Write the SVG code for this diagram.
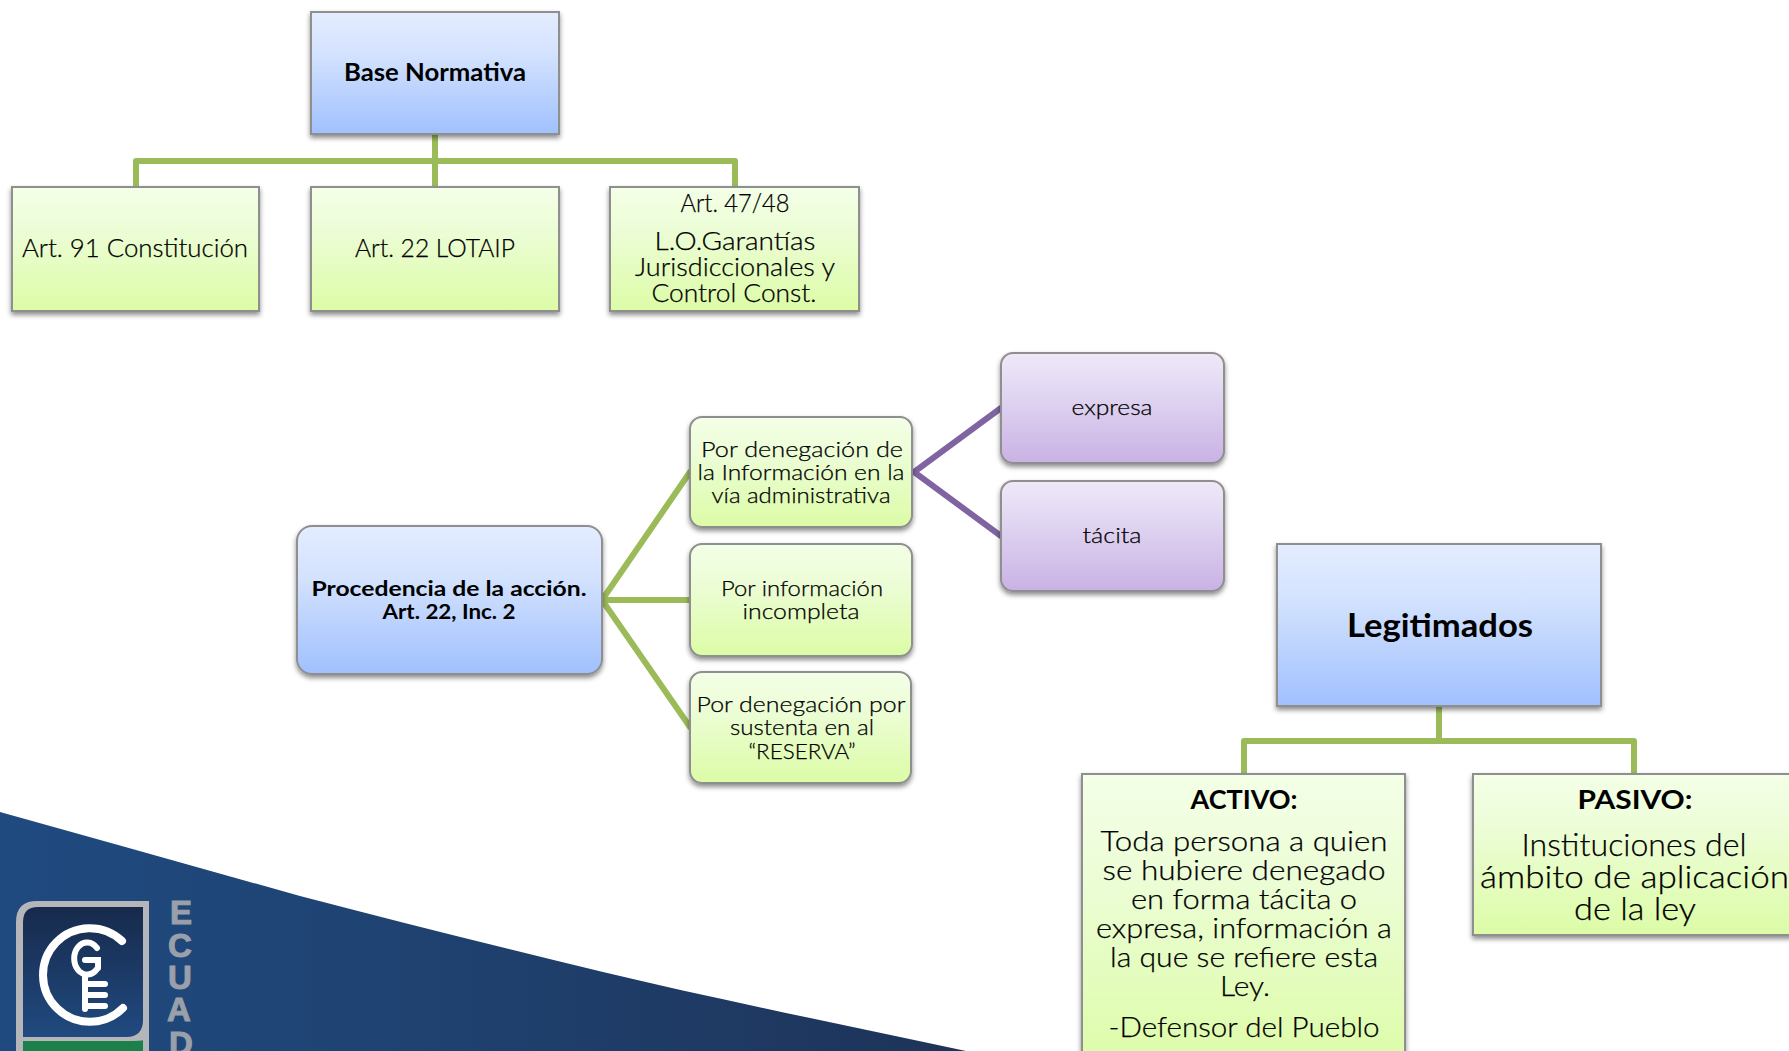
<svg xmlns="http://www.w3.org/2000/svg" width="1789" height="1051" viewBox="0 0 1789 1051">
<style>
text{font-family:"Lato","Liberation Sans",sans-serif;fill:#000;stroke:#000;stroke-width:.25;font-weight:300}
text.b{font-weight:700;fill:#000;stroke:none}
.blue{fill:url(#gb)}.green{fill:url(#gg)}.purple{fill:url(#gp)}
.box{stroke:#8f8f8f;stroke-width:2;filter:url(#sh)}
.cg{fill:none;stroke:#9bbb59;stroke-width:6;stroke-linejoin:round;stroke-linecap:round}
.cp{fill:none;stroke:#8064a2;stroke-width:6;stroke-linecap:round}
text.lt{font-family:"Liberation Sans",sans-serif;font-weight:700;font-size:33px;fill:#9aa0aa;stroke:#9aa0aa;stroke-width:1}
.key{fill:none;stroke:#fff;stroke-width:8;stroke-linecap:round}
.key2{fill:none;stroke:#fff;stroke-width:6;stroke-linecap:round}
</style>
<defs>
<linearGradient id="gb" x1="0" y1="0" x2="0" y2="1"><stop offset="0" stop-color="#e4edff"/><stop offset=".35" stop-color="#d3e2fe"/><stop offset="1" stop-color="#a0c0fe"/></linearGradient>
<linearGradient id="gg" x1="0" y1="0" x2="0" y2="1"><stop offset="0" stop-color="#f4ffe7"/><stop offset=".35" stop-color="#ecfdd6"/><stop offset="1" stop-color="#dcfca6"/></linearGradient>
<linearGradient id="gp" x1="0" y1="0" x2="0" y2="1"><stop offset="0" stop-color="#efe8f8"/><stop offset=".35" stop-color="#e2d7f2"/><stop offset="1" stop-color="#c8b2e4"/></linearGradient>
<linearGradient id="bg" x1="0" y1="0" x2="1" y2="0"><stop offset="0" stop-color="#1f4a80"/><stop offset=".35" stop-color="#1f4474"/><stop offset="1" stop-color="#1e3358"/></linearGradient>
<linearGradient id="lg" x1="0" y1="0" x2="0" y2="1"><stop offset="0" stop-color="#172a4c"/><stop offset="1" stop-color="#204a80"/></linearGradient>
<filter id="sh" x="-10%" y="-10%" width="120%" height="125%"><feDropShadow dx="0" dy="3" stdDeviation="2.5" flood-color="#000" flood-opacity=".45"/></filter>
</defs>
<g id="background">
<path d="M0 812C100 840 200 868 300 896C400 922 503 948 603 972C720 1000 845 1025 966 1051L0 1051Z" fill="url(#bg)"/>
</g>
<g id="logo">
<path d="M16 1051V922Q16 901 37 901H149V1051Z" fill="#b4b6ba"/>
<path d="M23 1037V922Q23 907 38 907H143V1020Q143 1037 126 1037Z" fill="url(#lg)"/>
<path d="M23 1051V1041H126Q143 1041 143 1040V1051Z" fill="#1b8049"/>
<path class="key" d="M122 941A46.800 46.800 0 1 0 123 1008"/>
<path class="key2" d="M97 948A13 16 0 1 0 97 969M85 960H98V968M85 975V1009M85 984H105M85 995H105M85 1006H105"/>
<text class="lt" x="170" y="924">E</text>
<text class="lt" x="168" y="957">C</text>
<text class="lt" x="168" y="989">U</text>
<text class="lt" x="167" y="1021">A</text>
<text class="lt" x="169" y="1055">D</text>
</g>
<g id="connectors">
<path class="cg" d="M435 134V187M136 187V161H735V187"/>
<path class="cg" d="M690 472L602 600L690 727M602 600H690"/>
<path class="cp" d="M1001 408L914 472L1001 536"/>
<path class="cg" d="M1439 706V741M1244 774V741H1634V774"/>
</g>
<g id="n-base"><rect class="box blue" x="311" y="12" width="248" height="122"/>
<text class="b" x="435" y="81" text-anchor="middle" font-size="25" textLength="182" lengthAdjust="spacingAndGlyphs">Base Normativa</text></g>
<g id="n-art91"><rect class="box green" x="12" y="187" width="247" height="124"/>
<text x="135" y="257" text-anchor="middle" font-size="25" textLength="226" lengthAdjust="spacingAndGlyphs">Art. 91 Constitución</text></g>
<g id="n-art22"><rect class="box green" x="311" y="187" width="248" height="124"/>
<text x="435" y="257" text-anchor="middle" font-size="25" textLength="160" lengthAdjust="spacingAndGlyphs">Art. 22 LOTAIP</text></g>
<g id="n-art47"><rect class="box green" x="610" y="187" width="249" height="124"/>
<text x="735" y="212" text-anchor="middle" font-size="25" textLength="109" lengthAdjust="spacingAndGlyphs">Art. 47/48</text>
<text x="735" y="250" text-anchor="middle" font-size="25" textLength="161" lengthAdjust="spacingAndGlyphs">L.O.Garantías</text>
<text x="735" y="276" text-anchor="middle" font-size="25" textLength="200" lengthAdjust="spacingAndGlyphs">Jurisdiccionales y</text>
<text x="734" y="302" text-anchor="middle" font-size="25" textLength="165" lengthAdjust="spacingAndGlyphs">Control Const.</text></g>
<g id="n-procedencia"><rect class="box blue" x="297" y="526" width="305" height="148" rx="15"/>
<text class="b" x="449" y="596" text-anchor="middle" font-size="21" textLength="275" lengthAdjust="spacingAndGlyphs">Procedencia de la acción.</text>
<text class="b" x="449" y="619" text-anchor="middle" font-size="21" textLength="133" lengthAdjust="spacingAndGlyphs">Art. 22, Inc. 2</text></g>
<g id="n-denegacion"><rect class="box green" x="690" y="417" width="222" height="110" rx="12"/>
<text x="802" y="457" text-anchor="middle" font-size="22" textLength="202" lengthAdjust="spacingAndGlyphs">Por denegación de</text>
<text x="801" y="480" text-anchor="middle" font-size="22" textLength="207" lengthAdjust="spacingAndGlyphs">la Información en la</text>
<text x="801" y="503" text-anchor="middle" font-size="22" textLength="179" lengthAdjust="spacingAndGlyphs">vía administrativa</text></g>
<g id="n-incompleta"><rect class="box green" x="690" y="544" width="222" height="112" rx="12"/>
<text x="802" y="596" text-anchor="middle" font-size="22" textLength="162" lengthAdjust="spacingAndGlyphs">Por información</text>
<text x="801" y="619" text-anchor="middle" font-size="22" textLength="117" lengthAdjust="spacingAndGlyphs">incompleta</text></g>
<g id="n-reserva"><rect class="box green" x="690" y="672" width="221" height="111" rx="12"/>
<text x="801" y="712" text-anchor="middle" font-size="22" textLength="209" lengthAdjust="spacingAndGlyphs">Por denegación por</text>
<text x="802" y="735" text-anchor="middle" font-size="22" textLength="144" lengthAdjust="spacingAndGlyphs">sustenta en al</text>
<text x="802" y="759" text-anchor="middle" font-size="22" textLength="107" lengthAdjust="spacingAndGlyphs">“RESERVA”</text></g>
<g id="n-expresa"><rect class="box purple" x="1001" y="353" width="223" height="110" rx="12"/>
<text x="1112" y="415" text-anchor="middle" font-size="22" textLength="81" lengthAdjust="spacingAndGlyphs">expresa</text></g>
<g id="n-tacita"><rect class="box purple" x="1001" y="481" width="223" height="110" rx="12"/>
<text x="1112" y="543" text-anchor="middle" font-size="22" textLength="59" lengthAdjust="spacingAndGlyphs">tácita</text></g>
<g id="n-legitimados"><rect class="box blue" x="1277" y="544" width="324" height="162"/>
<text class="b" x="1440" y="637" text-anchor="middle" font-size="33" textLength="186" lengthAdjust="spacingAndGlyphs">Legitimados</text></g>
<g id="n-activo"><rect class="box green" x="1082" y="774" width="323" height="300"/>
<text class="b" x="1244" y="809" text-anchor="middle" font-size="27" textLength="107" lengthAdjust="spacingAndGlyphs">ACTIVO:</text>
<text x="1244" y="851" text-anchor="middle" font-size="28" textLength="287" lengthAdjust="spacingAndGlyphs">Toda persona a quien</text>
<text x="1244" y="880" text-anchor="middle" font-size="28" textLength="283" lengthAdjust="spacingAndGlyphs">se hubiere denegado</text>
<text x="1244" y="909" text-anchor="middle" font-size="28" textLength="226" lengthAdjust="spacingAndGlyphs">en forma tácita o</text>
<text x="1244" y="938" text-anchor="middle" font-size="28" textLength="296" lengthAdjust="spacingAndGlyphs">expresa, información a</text>
<text x="1244" y="967" text-anchor="middle" font-size="28" textLength="268" lengthAdjust="spacingAndGlyphs">la que se refiere esta</text>
<text x="1245" y="996" text-anchor="middle" font-size="28" textLength="50" lengthAdjust="spacingAndGlyphs">Ley.</text>
<text x="1244" y="1037" text-anchor="middle" font-size="28" textLength="271" lengthAdjust="spacingAndGlyphs">-Defensor del Pueblo</text></g>
<g id="n-pasivo"><rect class="box green" x="1473" y="774" width="323" height="161"/>
<text class="b" x="1635" y="809" text-anchor="middle" font-size="27" textLength="115" lengthAdjust="spacingAndGlyphs">PASIVO:</text>
<text x="1634" y="856" text-anchor="middle" font-size="31" textLength="225" lengthAdjust="spacingAndGlyphs">Instituciones del</text>
<text x="1634.500" y="888" text-anchor="middle" font-size="31" textLength="309" lengthAdjust="spacingAndGlyphs">ámbito de aplicación</text>
<text x="1635" y="920" text-anchor="middle" font-size="31" textLength="122" lengthAdjust="spacingAndGlyphs">de la ley</text></g>
</svg>
